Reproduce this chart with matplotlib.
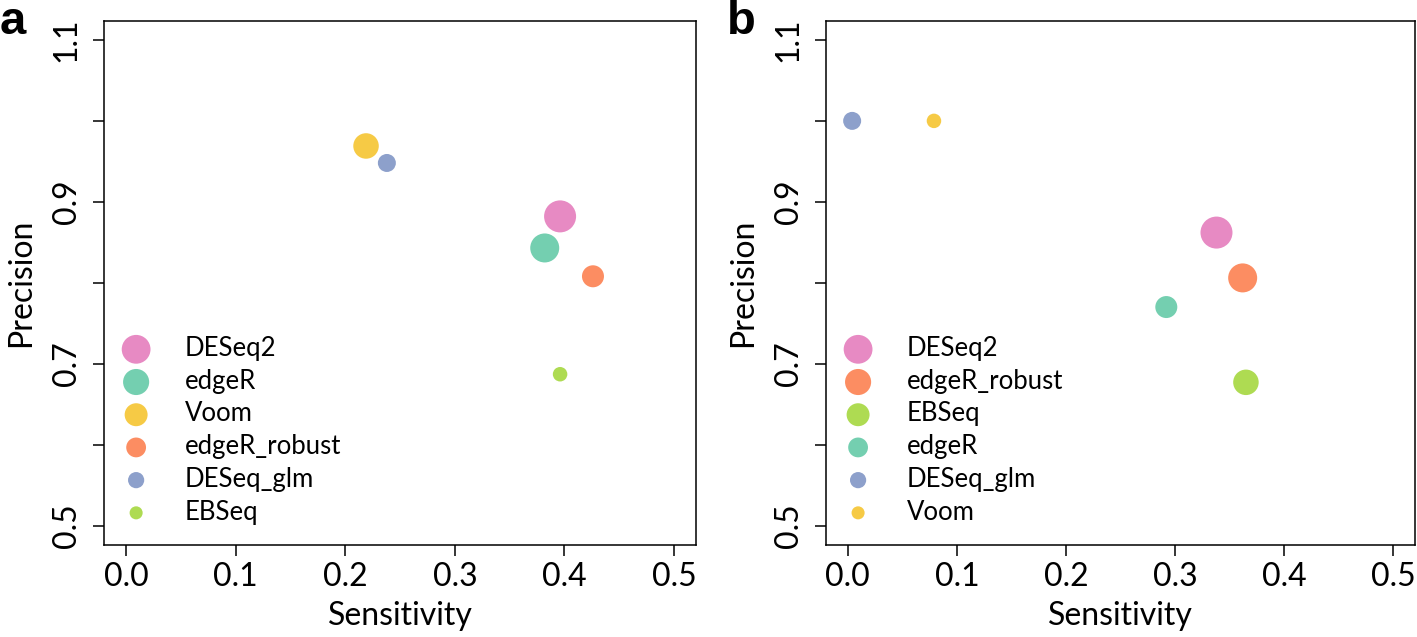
import numpy as np
import matplotlib
matplotlib.use("Agg")
import matplotlib.pyplot as plt

# --- data (methods listed by rank, largest marker first) ---
methods_a = ["DESeq2", "edgeR", "Voom", "edgeR_robust", "DESeq_glm", "EBSeq"]
sens_a = [0.396, 0.382, 0.219, 0.426, 0.238, 0.396]
prec_a = [0.882, 0.843, 0.969, 0.808, 0.948, 0.687]

methods_b = ["DESeq2", "edgeR_robust", "EBSeq", "edgeR", "DESeq_glm", "Voom"]
sens_b = [0.338, 0.362, 0.365, 0.292, 0.004, 0.079]
prec_b = [0.862, 0.806, 0.677, 0.770, 1.000, 1.000]

# --- style ---
colors = {
    "DESeq2": "#E78AC3",
    "edgeR": "#74CFB0",
    "Voom": "#F6CA45",
    "edgeR_robust": "#FC8D62",
    "DESeq_glm": "#8DA0CB",
    "EBSeq": "#AEDB52",
}
rank_diam_px = [32, 29, 25.5, 22, 18, 14.5]
px2pt = 72 / 100

plt.rcParams.update({"font.family": ["Lato", "DejaVu Sans"]})

fig = plt.figure(figsize=(14.17, 6.37), dpi=100)
ax_a = fig.add_axes([0.0734, 0.1444, 0.4178, 0.8234])
ax_b = fig.add_axes([0.5829, 0.1444, 0.4157, 0.8234])


def panel(ax, methods, sens, prec):
    for i, m in enumerate(methods):
        s = (rank_diam_px[i] * px2pt) ** 2
        ax.scatter(sens[i], prec[i], s=s, color=colors[m], edgecolors="none",
                   label=m, zorder=3)
    ax.set_xlim(-0.02, 0.52)
    ax.set_ylim(0.476, 1.124)
    ax.set_xticks(np.arange(0, 0.51, 0.1))
    ax.set_xticklabels([f"{v:.1f}" for v in np.arange(0, 0.51, 0.1)])
    yt = np.round(np.arange(0.5, 1.11, 0.1), 1)
    ax.set_yticks(yt)
    ax.set_yticklabels([f"{v:.1f}" if i % 2 == 0 else "" for i, v in enumerate(yt)],
                       rotation=90, va="center")
    ax.tick_params(axis="both", labelsize=23, length=8, width=1.1)
    ax.tick_params(axis="x", pad=4)
    ax.tick_params(axis="y", pad=8)
    for sp in ax.spines.values():
        sp.set_linewidth(1.1)
    ax.set_xlabel("Sensitivity", fontsize=23, labelpad=7)
    ax.set_ylabel("Precision", fontsize=23, labelpad=11)
    leg = ax.legend(loc="lower left", bbox_to_anchor=(0.0, 0.012), frameon=False,
                    fontsize=18.5, markerscale=0.9, labelspacing=0.3,
                    handlelength=1.4, handletextpad=1.2, borderaxespad=0.15,
                    scatterpoints=1)
    return leg


panel(ax_a, methods_a, sens_a, prec_a)
panel(ax_b, methods_b, sens_b, prec_b)

fig.text(0.0, 1.0, "a", fontsize=34, fontweight="bold", va="top", ha="left",
         family="Liberation Sans")
fig.text(0.513, 1.0, "b", fontsize=34, fontweight="bold", va="top", ha="left",
         family="Liberation Sans")

fig.savefig("out.png", dpi=100)
